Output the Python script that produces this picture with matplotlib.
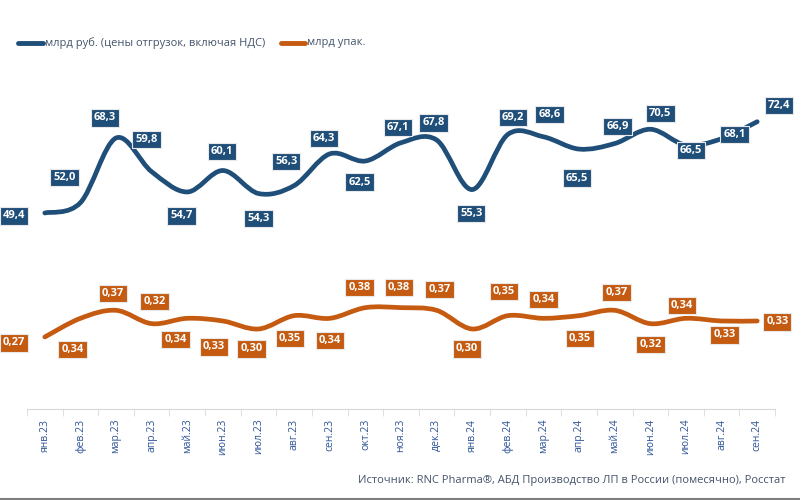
import matplotlib.pyplot as plt
from matplotlib.path import Path
from matplotlib.patches import PathPatch
from matplotlib.lines import Line2D

plt.rcParams['font.family'] = ['Open Sans', 'DejaVu Sans']

months = ['янв.23', 'фев.23', 'мар.23', 'апр.23', 'май.23', 'июн.23', 'июл.23',
          'авг.23', 'сен.23', 'окт.23', 'ноя.23', 'дек.23', 'янв.24', 'фев.24',
          'мар.24', 'апр.24', 'май.24', 'июн.24', 'июл.24', 'авг.24', 'сен.24']
rub_bln = [49.4, 52.0, 68.3, 59.8, 54.7, 60.1, 54.3, 56.3, 64.3, 62.5, 67.1,
           67.8, 55.3, 69.2, 68.6, 65.5, 66.9, 70.5, 66.5, 68.1, 72.4]
packs_bln = [0.27, 0.34, 0.37, 0.32, 0.34, 0.33, 0.30, 0.35, 0.34, 0.38, 0.38,
             0.37, 0.30, 0.35, 0.34, 0.35, 0.37, 0.32, 0.34, 0.33, 0.33]

BLUE = '#1f4e79'
ORANGE = '#c55a11'
TEXT = '#44546a'

# label offsets in pixels (dx right, dy down) from each point
rub_off = [(-31, 3), (-16, -25), (-11, -20), (-5, -32), (-6, 24), (-1, -19),
           (0, 25), (-8, -24), (-6, -15), (-6, 21), (-3, -15), (-3, -17),
           (-1, 24), (5, -17), (6, -22), (-2, 29), (3, -17), (10, -16),
           (5, 5), (13, -4), (22, -16)]
packs_off = [(-31, 6), (-8, 31), (-3, -17), (3, -22), (-12, 21), (-9, 26),
             (-7, 20), (-4, 23), (0, 22), (-6, -20), (-2, -20), (3, -21),
             (-5, 20), (-4, -24), (0, -19), (1, 23), (2, -18), (0, 21),
             (-4, -13), (3, 14), (20, 1)]


def smooth_path(ys):
    # Excel-like smoothed line: Catmull-Rom converted to cubic Bezier
    pts = list(zip(range(len(ys)), ys))
    verts = [pts[0]]
    codes = [Path.MOVETO]
    n = len(pts)
    for i in range(n - 1):
        p0 = pts[max(i - 1, 0)]
        p1 = pts[i]
        p2 = pts[i + 1]
        p3 = pts[min(i + 2, n - 1)]
        c1 = (p1[0] + (p2[0] - p0[0]) / 6, p1[1] + (p2[1] - p0[1]) / 6)
        c2 = (p2[0] - (p3[0] - p1[0]) / 6, p2[1] - (p3[1] - p1[1]) / 6)
        verts += [c1, c2, p2]
        codes += [Path.CURVE4] * 3
    return Path(verts, codes)


def draw_series(ax, ys, color, offsets, fmt):
    patch = PathPatch(smooth_path(ys), fill=False, edgecolor=color, lw=3.4,
                      capstyle='round', joinstyle='round', zorder=3)
    ax.add_patch(patch)
    for i, v in enumerate(ys):
        dx, dy = offsets[i]
        ax.annotate(fmt(v), (i, v), xytext=(dx, -dy), textcoords='offset pixels',
                    ha='center', va='center', color='white', fontsize=8,
                    fontweight='bold', zorder=5,
                    bbox=dict(boxstyle='square,pad=0.28', fc=color,
                              ec='#e8e8e8', lw=0.8))


fig = plt.figure(figsize=(8, 5), dpi=100)
ax = fig.add_axes([27 / 800, 91 / 500, 748 / 800, 389 / 500])
ax2 = ax.twinx()

x = list(range(len(months)))
ax.set_xlim(-0.5, len(months) - 0.5)
ax.set_ylim(0, 389 / 3.968)
ax2.set_ylim(0, 389 / 266.7)

draw_series(ax, rub_bln, BLUE, rub_off, lambda v: f'{v:.1f}'.replace('.', ','))
draw_series(ax2, packs_bln, ORANGE, packs_off, lambda v: f'{v:.2f}'.replace('.', ','))

for a in (ax, ax2):
    for s in ('top', 'left', 'right'):
        a.spines[s].set_visible(False)
    a.set_yticks([])
ax2.spines['bottom'].set_visible(False)
ax.spines['bottom'].set_color('#d9d9d9')

ax.set_xticks(x)
ax.set_xticklabels(months, rotation=90, color='#2f5597', fontsize=7.5)
ax.tick_params(axis='x', which='major', length=0, pad=7)
ax.set_xticks([i - 0.5 for i in range(len(months) + 1)], minor=True)
ax.tick_params(axis='x', which='minor', length=5, color='#d9d9d9')

# legend
fig.add_artist(Line2D([18 / 800, 43 / 800], [457 / 500, 457 / 500], color=BLUE,
                      lw=3.5, solid_capstyle='round'))
fig.text(45 / 800, 457 / 500, 'млрд руб. (цены отгрузок, включая НДС)',
         color=TEXT, fontsize=8, va='center')
fig.add_artist(Line2D([281 / 800, 305 / 800], [457 / 500, 457 / 500], color=ORANGE,
                      lw=3.5, solid_capstyle='round'))
fig.text(307 / 800, 457 / 500, 'млрд упак.', color=TEXT, fontsize=8, va='center')

fig.text(785 / 800, 20 / 500,
         'Источник: RNC Pharma®, АБД Производство ЛП в России (помесячно), Росстат',
         color=TEXT, fontsize=8, ha='right', va='center')

fig.add_artist(Line2D([0, 1], [0.002, 0.002], color='#7f7f7f', lw=1.5))

fig.savefig('out.png', dpi=100)
